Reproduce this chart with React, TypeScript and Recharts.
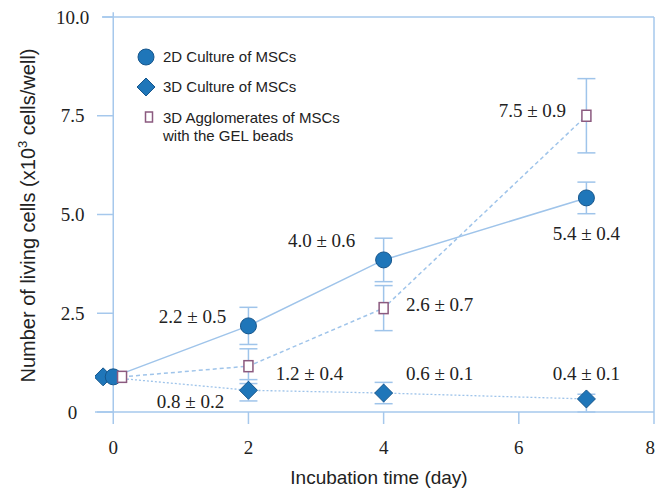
import React from 'react';
import { ComposedChart, Scatter, XAxis, YAxis, ErrorBar, ReferenceLine, Legend } from 'recharts';

// ---- data ----
const seriesNames = ['2D Culture of MSCs', '3D Culture of MSCs', '3D Agglomerates of MSCs\nwith the GEL beads'];

const days2D = [0, 2, 4, 7];
const cells2D = [0.89, 2.18, 3.85, 5.42];
const err2D = [0, 0.47, 0.55, 0.4];
const labels2D = ['', '2.2 ± 0.5', '4.0 ± 0.6', '5.4 ± 0.4'];

const days3D = [-0.15, 2, 4, 7];
const cells3D = [0.89, 0.55, 0.48, 0.33];
const err3D: (number | number[])[] = [0, 0.27, 0.27, [0.33, 0.12]];
const labels3D = ['', '0.8 ± 0.2', '0.6 ± 0.1', '0.4 ± 0.1'];

const daysGel = [0.13, 2, 4, 7];
const cellsGel = [0.89, 1.16, 2.63, 7.5];
const errGel = [0, 0.44, 0.57, 0.94];
const labelsGel = ['', '1.2 ± 0.4', '2.6 ± 0.7', '7.5 ± 0.9'];

const xTicks = [0, 2, 4, 6, 8];
const yTicks = [0, 2.5, 5, 7.5, 10];
const yTickLabels = ['0', '2.5', '5.0', '7.5', '10.0'];

const build = (days: number[], vals: number[], errs: any[], labels: string[]) =>
  days.map((d, i) => ({ day: d, cells: vals[i], err: errs[i], label: labels[i], i }));

const data2D = build(days2D, cells2D, err2D, labels2D);
const data3D = build(days3D, cells3D, err3D, labels3D);
const dataGel = build(daysGel, cellsGel, errGel, labelsGel);

// ---- styling ----
const LINE = '#9fc4ea';
const AXIS = '#a6c8ec';
const FILL = '#1f76b9';
const EDGE = '#17568c';
const SQ = '#8b5a7f';
const SERIF = '"Liberation Serif", "Times New Roman", serif';
const SANS = '"Liberation Sans", Arial, Helvetica, sans-serif';

// label offsets (px) relative to each point
const off2D = [[0, 0], [-56, -10], [-62, -20], [0, 35]];
const off3D = [[0, 0], [-58, 11], [56, -20], [0, -26]];
const offGel = [[0, 0], [61, 7], [56, -4], [-54, -5]];

const LabelText = ({ x, y, text }: any) =>
  text ? (
    <text x={x} y={y} textAnchor="middle" dy="0.35em" fontFamily={SERIF} fontSize={19} fill="#222">
      {text}
    </text>
  ) : null;

const circleShape = (p: any) => {
  const { cx, cy, payload } = p;
  const o = off2D[payload.i];
  return (
    <g>
      <circle cx={cx} cy={cy} r={8} fill={FILL} stroke={EDGE} strokeWidth={1} />
      <LabelText x={cx + o[0]} y={cy + o[1]} text={payload.label} />
    </g>
  );
};

const diamondShape = (p: any) => {
  const { cx, cy, payload } = p;
  const o = off3D[payload.i];
  const h = 9;
  return (
    <g>
      <path d={`M${cx},${cy - h}L${cx + h},${cy}L${cx},${cy + h}L${cx - h},${cy}Z`} fill={FILL} stroke={EDGE} strokeWidth={1} />
      <LabelText x={cx + o[0]} y={cy + o[1]} text={payload.label} />
    </g>
  );
};

const squareShape = (p: any) => {
  const { cx, cy, payload } = p;
  const o = offGel[payload.i];
  return (
    <g>
      <rect x={cx - 4.5} y={cy - 5.5} width={9} height={11} fill="#fff" stroke={SQ} strokeWidth={1.5} />
      <LabelText x={cx + o[0]} y={cy + o[1]} text={payload.label} />
    </g>
  );
};

const YTick = (p: any) => {
  const { x, y, payload, index } = p;
  const idx = yTicks.indexOf(payload.value);
  return (
    <g>
      <line x1={x + 24.5 + (idx === 4 ? 5 : 0)} x2={x + 40.5} y1={y} y2={y} stroke={AXIS} strokeWidth={1.5} />
      <text x={x} y={y} textAnchor="middle" dy="0.35em" fontFamily={SERIF} fontSize={19} fill="#222">
        {yTickLabels[idx >= 0 ? idx : index]}
      </text>
    </g>
  );
};

const LegendContent = () => (
  <svg width={240} height={110} style={{ display: 'block', overflow: 'visible' }}>
    <circle cx={16} cy={17} r={8} fill={FILL} stroke={EDGE} strokeWidth={1} />
    <path d="M16,38L25,47L16,56L7,47Z" fill={FILL} stroke={EDGE} strokeWidth={1} />
    <rect x={15.5} y={72} width={7} height={10} fill="#fff" stroke={SQ} strokeWidth={1.5} />
    <g fontFamily={SANS} fontSize={15} fill="#222">
      <text x={33} y={17} dy="0.35em">{seriesNames[0]}</text>
      <text x={33} y={47} dy="0.35em">{seriesNames[1]}</text>
      {seriesNames[2].split('\n').map((t, k) => (
        <text key={k} x={33} y={78 + k * 18} dy="0.35em">{t}</text>
      ))}
    </g>
  </svg>
);

export default function App() {
  return (
    <div style={{ position: 'absolute', left: 0, top: 0, width: 655, height: 492, background: '#fff' }}>
      <ComposedChart width={655} height={492} margin={{ top: 17, right: 1, bottom: 0, left: 0 }}>
        <XAxis
          type="number"
          dataKey="day"
          domain={[-0.27, 8]}
          ticks={xTicks}
          allowDataOverflow
          height={80}
          stroke={AXIS}
          axisLine={{ stroke: AXIS, strokeWidth: 1.5 }}
          tickLine={{ stroke: AXIS, strokeWidth: 1.5 }}
          tickSize={12}
          tickMargin={17}
          tick={{ fontFamily: SERIF, fontSize: 19, fill: '#222' }}
          label={{
            content: () => (
              <text x={379} y={477} textAnchor="middle" dy="0.35em" fontFamily={SANS} fontSize={19} fill="#222">
                Incubation time (day)
              </text>
            ),
          }}
        />
        <YAxis
          type="number"
          dataKey="cells"
          domain={[0, 10]}
          ticks={yTicks}
          allowDataOverflow
          width={95}
          axisLine={false}
          tickLine={false}
          tickSize={0}
          tickMargin={22.5}
          tick={<YTick />}
          label={{
            content: (props: any) => {
              const vb = props.viewBox || { y: 17, height: 395 };
              const cy = vb.y + vb.height / 2 + 1;
              return (
                <text x={28} y={cy} transform={`rotate(-90 28 ${cy})`} textAnchor="middle" dy="0.35em" fontFamily={SANS} fontSize={20} fill="#222">
                  Number of living cells (x10<tspan dy={-8} fontSize={13}>3</tspan><tspan dy={8}> cells/well)</tspan>
                </text>
              );
            },
          }}
        />
        <ReferenceLine segment={[{ x: 0, y: 0 }, { x: 0, y: 10.12 }]} stroke={AXIS} strokeWidth={1.5} ifOverflow="visible" />
        <ReferenceLine segment={[{ x: -0.16, y: 10 }, { x: 8, y: 10 }]} stroke={AXIS} strokeWidth={1.5} ifOverflow="visible" />
        <ReferenceLine segment={[{ x: 8, y: 0 }, { x: 8, y: 10 }]} stroke={AXIS} strokeWidth={1.5} ifOverflow="visible" />
        <Legend
          layout="vertical"
          align="center"
          verticalAlign="middle"
          content={<LegendContent />}
          wrapperStyle={{ position: 'absolute', left: 130, top: 40, width: 240, height: 110 }}
        />
        <Scatter
          name={seriesNames[1]}
          data={data3D}
          line={{ stroke: LINE, strokeWidth: 1.3, strokeDasharray: '2 2' }}
          lineType="joint"
          shape={diamondShape}
          isAnimationActive={false}
        >
          <ErrorBar dataKey="err" direction="y" width={9} stroke={LINE} strokeWidth={1.5} />
        </Scatter>
        <Scatter
          name={seriesNames[0]}
          data={data2D}
          line={{ stroke: LINE, strokeWidth: 1.5 }}
          lineType="joint"
          shape={circleShape}
          isAnimationActive={false}
        >
          <ErrorBar dataKey="err" direction="y" width={9} stroke={LINE} strokeWidth={1.5} />
        </Scatter>
        <Scatter
          name={seriesNames[2]}
          data={dataGel}
          line={{ stroke: LINE, strokeWidth: 1.5, strokeDasharray: '4 3' }}
          lineType="joint"
          shape={squareShape}
          isAnimationActive={false}
        >
          <ErrorBar dataKey="err" direction="y" width={9} stroke={LINE} strokeWidth={1.5} />
        </Scatter>
      </ComposedChart>
    </div>
  );
}
